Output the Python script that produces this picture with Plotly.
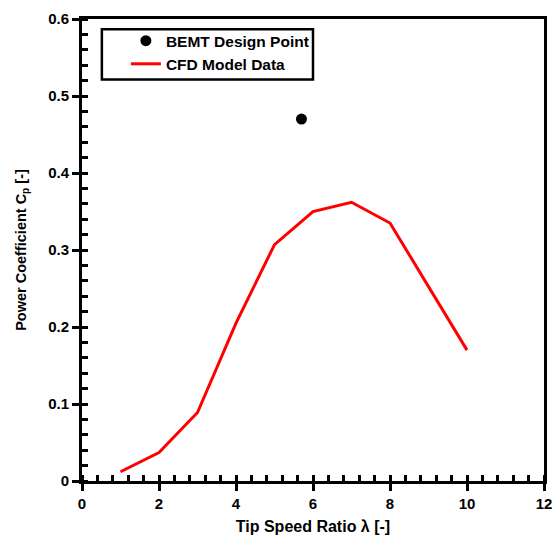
import plotly.graph_objects as go

# CFD power-coefficient curve
tsr_cfd = [1, 2, 3, 4, 5, 6, 7, 8, 10]
cp_cfd = [0.012, 0.037, 0.089, 0.205, 0.307, 0.350, 0.362, 0.335, 0.170]

# BEMT design point
tsr_bemt = [5.7]
cp_bemt = [0.47]

font_family = "Liberation Sans, Arial, sans-serif"

fig = go.Figure()
fig.add_trace(go.Scatter(
    x=tsr_bemt, y=cp_bemt, mode="markers", name="BEMT Design Point",
    marker=dict(color="black", size=11),
))
fig.add_trace(go.Scatter(
    x=tsr_cfd, y=cp_cfd, mode="lines", name="CFD Model Data",
    line=dict(color="#ff0000", width=3),
))

axis_common = dict(
    showline=True, linecolor="black", linewidth=3, mirror=True,
    showgrid=False, zeroline=False, automargin=False,
    ticks="outside", ticklen=7, tickwidth=3, tickcolor="black",
    tickfont=dict(family=font_family, size=15, color="black", weight="bold"),
)

fig.update_xaxes(
    range=[0, 12], dtick=2,
    minor=dict(ticks="inside", dtick=0.4, ticklen=6, tickwidth=3, tickcolor="black", showgrid=False),
    title=dict(text="Tip Speed Ratio λ [-]", standoff=10,
               font=dict(family=font_family, size=16, color="black", weight="bold")),
    **axis_common,
)
fig.update_yaxes(
    range=[0, 0.6], dtick=0.1, tickformat=".1~f",
    minor=dict(ticks="inside", dtick=0.02, ticklen=6, tickwidth=3, tickcolor="black", showgrid=False),
    title=dict(text="Power Coefficient C<sub>p</sub> [-]", standoff=19,
               font=dict(family=font_family, size=14.5, color="black", weight="bold")),
    **axis_common,
)

# legend frame drawn as a rectangle in paper coordinates
fig.add_shape(
    type="rect", xref="paper", yref="paper",
    x0=0.043, x1=0.5, y0=0.869, y1=0.978,
    line=dict(color="black", width=2.5), fillcolor="rgba(0,0,0,0)",
    layer="above",
)

fig.update_layout(
    width=553, height=538,
    margin=dict(l=82, r=9, t=19, b=57),
    plot_bgcolor="white", paper_bgcolor="white",
    showlegend=True,
    legend=dict(
        x=0.095, y=0.989, xanchor="left", yanchor="top",
        borderwidth=0, bgcolor="rgba(0,0,0,0)",
        font=dict(family=font_family, size=15.5, color="black", weight="bold"),
        tracegroupgap=0, itemwidth=30,
    ),
)

fig.write_html("out.html")
